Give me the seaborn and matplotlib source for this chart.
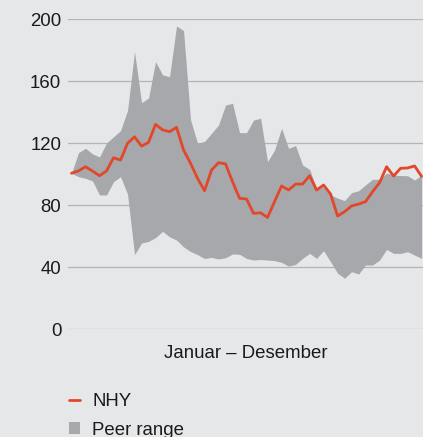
import numpy as np
import pandas as pd
import matplotlib.pyplot as plt
import seaborn as sns
from matplotlib.lines import Line2D
from matplotlib.patches import Patch

# indeksert kurs, uke for uke (start = 100)
nhy = [100.5, 102, 104.7, 101.9, 98.9, 102, 110.5, 109, 119.8, 124,
       118, 120.4, 132, 128.5, 127.3, 130.1, 115.5, 106.9, 97.2, 89.2,
       102.6, 107.3, 106.5, 95, 84.3, 83.9, 74.6, 75, 72, 82.2,
       92.3, 89.7, 93.5, 93.5, 98.9, 89.7, 92.9, 87.1, 72.9, 75.7,
       79.4, 80.6, 82.2, 88.6, 94.4, 104.7, 98.7, 103.7, 103.9, 105.2,
       98.5]
peer_high = [100.5, 113.8, 116.6, 113, 111, 120, 124, 128, 141, 179,
             146, 149, 172.5, 164, 162.8, 195.5, 192.5, 135, 119.8, 121,
             126.3, 131.6, 144.5, 145.6, 126.7, 126.7, 134.8, 136, 108, 115.5,
             129.5, 116.6, 118.3, 105.8, 103, 90.8, 91.8, 86.5, 84.5, 82.8,
             88, 89.2, 93, 96.6, 96.6, 100.5, 99.4, 99, 98.9, 96.1,
             99.4]
peer_low = [100.5, 98.3, 97.2, 95.5, 86.5, 86.5, 95, 98.3, 87, 48,
            55.5, 56.5, 59, 63, 59.5, 57.4, 53, 50, 48, 45.5,
            46.2, 45.2, 46, 48.4, 48.2, 45.5, 44.5, 44.8, 44.5, 44.1,
            43, 40.6, 41.7, 45.6, 48.8, 45.6, 50.5, 43.4, 36, 32.7,
            37, 35.5, 41.3, 41.3, 44.5, 51.4, 48.8, 48.8, 49.9, 47.7,
            45.6]
yticks = [0, 40, 80, 120, 160, 200]

df = pd.DataFrame({'uke': np.arange(len(nhy)), 'nhy': nhy,
                   'high': peer_high, 'low': peer_low})

bg = '#e6e7e9'
red = '#e2472b'
grey = '#a7a8ab'
fs = 13.4

sns.set_theme(style='white', rc={'axes.facecolor': bg, 'figure.facecolor': bg})
plt.rcParams['font.family'] = ['Liberation Sans', 'DejaVu Sans']

fig = plt.figure(figsize=(4.23, 4.37), dpi=100)
ax = fig.add_axes([0.1608, 0.2471, 0.8392, 0.7094])

ax.fill_between(df['uke'], df['low'], df['high'], color=grey, lw=0, zorder=2)
sns.lineplot(x='uke', y='nhy', data=df, color=red, lw=2, ax=ax, zorder=3)

ax.set_ylim(0, 200)
ax.set_xlim(-0.5, 50.2)
ax.set_yticks(yticks)
ax.set_xticks([])
for y in yticks:
    ax.axhline(y, color='#b3b4b6', lw=0.9, zorder=1)
ax.tick_params(axis='y', length=0, pad=4.8, labelsize=fs, labelcolor='#1a1a1a')
sns.despine(ax=ax, left=True, bottom=True)
ax.set_ylabel('')
ax.set_xlabel('Januar – Desember', fontsize=fs, color='#1a1a1a', labelpad=11.5)

handles = [Line2D([0], [0], color=red, lw=2),
           Patch(color=grey, lw=0)]
fig.legend(handles, ['NHY', 'Peer range'], loc='upper left',
           bbox_to_anchor=(69 / 423, 1 - 393 / 437), frameon=False,
           fontsize=fs, handlelength=0.59, handleheight=0.59,
           handletextpad=0.65, labelspacing=0.64, borderpad=0, borderaxespad=0,
           labelcolor='#1a1a1a')

fig.savefig('out.png', dpi=100, facecolor=bg)
